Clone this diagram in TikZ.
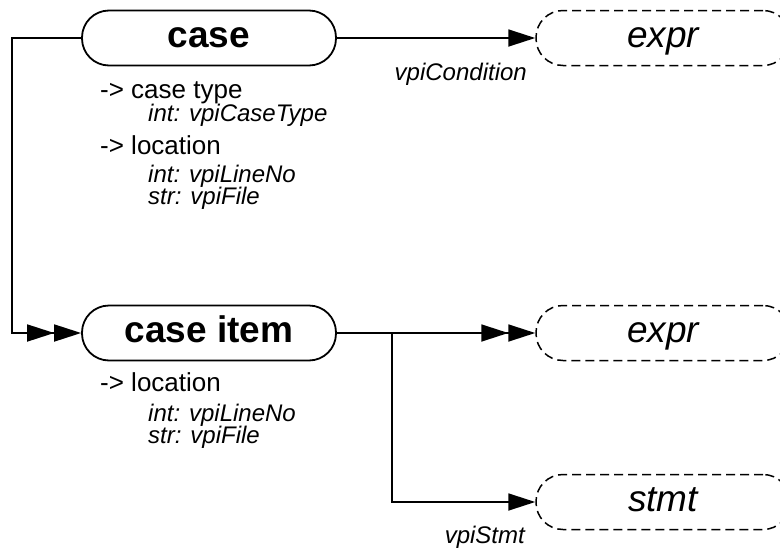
\documentclass[tikz,border=0pt]{standalone}
\usepackage{fontspec}
\setmainfont{Liberation Sans}
\usetikzlibrary{arrows.meta}
\begin{document}
\begin{tikzpicture}[x=1pt,y=-1pt,
  objbox/.style={draw,line width=1.8pt,rounded corners=27pt,minimum width=254pt,minimum height=55pt,inner sep=0pt,text height=19pt,text depth=0pt,font=\fontsize{37}{40}\selectfont\bfseries},
  refbox/.style={draw,line width=1.5pt,dash pattern=on 9pt off 5pt,rounded corners=27pt,minimum width=254pt,minimum height=55pt,inner sep=0pt,text height=19pt,text depth=0pt,font=\fontsize{37}{40}\selectfont\itshape},
  conn/.style={line width=1.8pt},
  tip/.tip={Triangle[length=27pt,width=17pt]},
  attr/.style={anchor=base west,inner sep=0pt,font=\fontsize{26}{30}\selectfont},
  attrit/.style={anchor=base west,inner sep=0pt,font=\fontsize{24}{28}\selectfont\itshape},
  lbl/.style={anchor=base east,inner sep=0pt,font=\fontsize{24}{28}\selectfont\itshape}]
\useasboundingbox (0,0) rectangle (780,552);
\node[objbox] (case) at (209,38) {case};
\node[objbox] (item) at (209,333) {case item};
\node[refbox] (expr1) at (663,38) {expr};
\node[refbox] (expr2) at (663,333) {expr};
\node[refbox] (stmt) at (663,502) {stmt};
\coordinate (lt) at (12,38);
\coordinate (lb) at (12,333);
\coordinate (br) at (392,333);
\coordinate (bb) at (392,502);
\draw[conn,-{tip}] (case.east) -- (expr1.west);
\draw[conn,-{tip[]tip}] (case.west) -- (lt) -- (lb) -- (item.west);
\draw[conn,-{tip[]tip}] (item.east) -- (expr2.west);
\draw[conn,-{tip}] (br) -- (bb) -- (stmt.west);
\node[lbl] (l1) at (527,80) {vpiCondition};
\node[lbl] (l2) at (525,543) {vpiStmt};
\node[attr] (a1) at (100,98) {-> case type};
\node[attrit] (a2) at (148,121) {int: vpiCaseType};
\node[attr] (a3) at (100,154) {-> location};
\node[attrit] (a4) at (148,182) {int: vpiLineNo};
\node[attrit] (a5) at (148,204) {str: vpiFile};
\node[attr] (b1) at (100,391) {-> location};
\node[attrit] (b2) at (148,421) {int: vpiLineNo};
\node[attrit] (b3) at (148,443) {str: vpiFile};
\end{tikzpicture}
\end{document}
